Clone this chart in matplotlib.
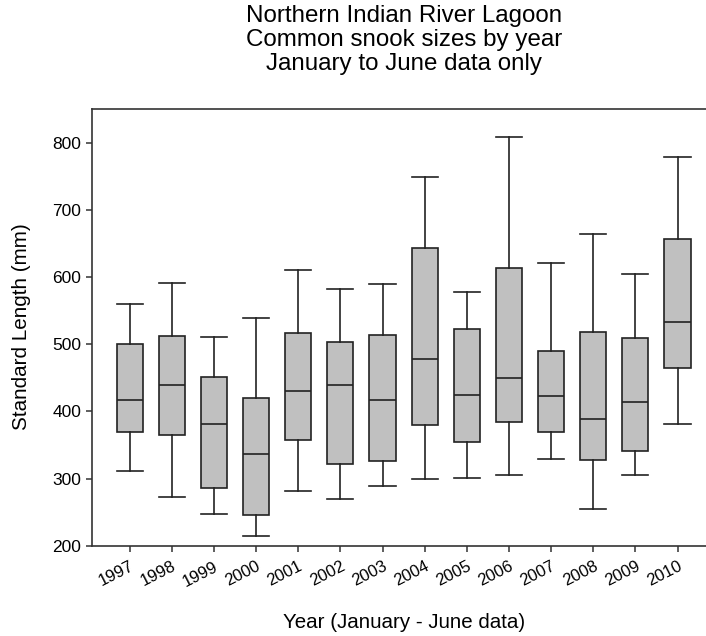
import matplotlib
matplotlib.use("Agg")
import matplotlib.pyplot as plt

plt.rcParams['font.family'] = ['Liberation Sans', 'DejaVu Sans']

# values (standard length, mm)
years = ['1997', '1998', '1999', '2000', '2001', '2002', '2003',
         '2004', '2005', '2006', '2007', '2008', '2009', '2010']
whisker_low = [312, 273, 247, 214, 281, 270, 289, 299, 301, 305, 329, 255, 306, 381]
q1 = [370, 365, 286, 245, 357, 321, 326, 380, 354, 384, 369, 327, 341, 464]
median = [417, 440, 381, 337, 431, 440, 417, 478, 424, 450, 423, 388, 414, 533]
q3 = [500, 513, 452, 420, 517, 504, 514, 644, 523, 614, 490, 519, 509, 657]
whisker_high = [560, 592, 511, 539, 611, 582, 590, 749, 578, 808, 621, 665, 605, 779]

stats = []
for i in range(len(years)):
    stats.append({
        'label': years[i],
        'whislo': whisker_low[i],
        'q1': q1[i],
        'med': median[i],
        'q3': q3[i],
        'whishi': whisker_high[i],
        'fliers': [],
    })

fig = plt.figure(figsize=(7.06, 6.36), dpi=100)
ax = fig.add_axes([91.7 / 706, 90.3 / 636, 628 / 706, 436.4 / 636])

lw = 1.2
edge = '#222222'
ax.bxp(stats, positions=range(1, len(years) + 1), widths=0.62,
       patch_artist=True, showfliers=False,
       boxprops=dict(facecolor='#c0c0c0', edgecolor=edge, linewidth=lw),
       medianprops=dict(color=edge, linewidth=lw),
       whiskerprops=dict(color=edge, linewidth=lw),
       capprops=dict(color=edge, linewidth=lw),
       capwidths=0.62)

ax.set_xlim(0.1, 15.0)
ax.set_ylim(200, 850)
ax.set_yticks([200, 300, 400, 500, 600, 700, 800])
ax.set_xticks(range(1, len(years) + 1))
ax.set_xticklabels(years, rotation=27, ha='right', rotation_mode='anchor')
ax.tick_params(axis='both', direction='out', length=4.5,
               width=1.1, color='#333333')
ax.tick_params(axis='y', labelsize=12.5, pad=3)
ax.tick_params(axis='x', labelsize=12, pad=5)
for side in ['left', 'bottom', 'top']:
    ax.spines[side].set_linewidth(1.2)
    ax.spines[side].set_color('#333333')
ax.spines['right'].set_visible(False)

fig.text(22 / 706, 1 - 326.5 / 636, 'Standard Length (mm)', fontsize=14.9,
         rotation=90, ha='center', va='center')
fig.text(404 / 706, 1 - 622 / 636, 'Year (January - June data)',
         fontsize=14.8, ha='center', va='center')
fig.text(404 / 706, 1 - 5 / 636,
         'Northern Indian River Lagoon\nCommon snook sizes by year\nJanuary to June data only',
         fontsize=17.4, ha='center', va='top', linespacing=1.12)

fig.savefig('out.png', dpi=100)
